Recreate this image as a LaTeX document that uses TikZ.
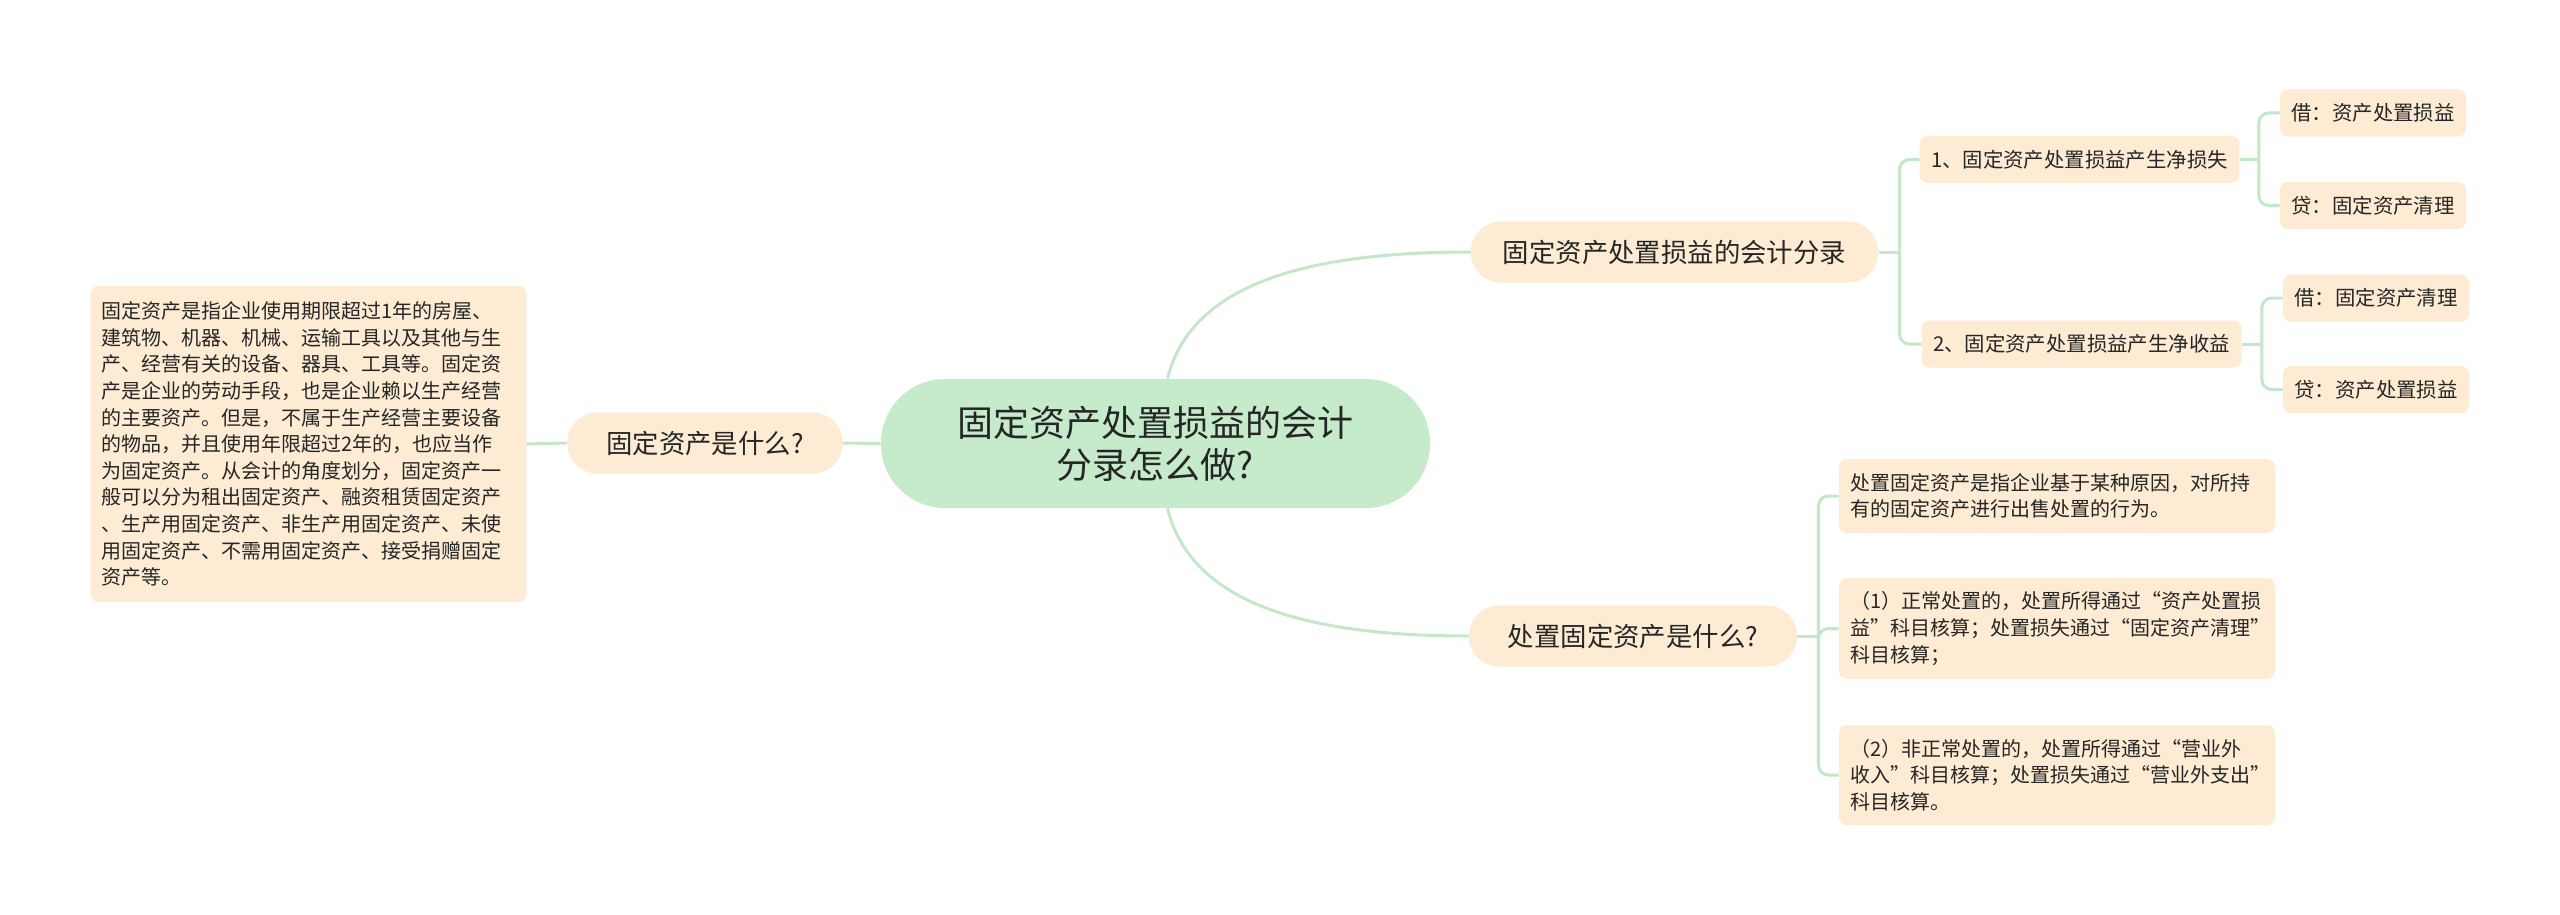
\documentclass[tikz,border=0pt]{standalone}
\usepackage{fontspec}
\setmainfont{Noto Sans CJK SC}
\usepackage{tikz}
\usetikzlibrary{calc}
\usepackage{xcolor}
\definecolor{RootGreen}{HTML}{C6EBCA}
\definecolor{TopicPeach}{HTML}{FDEBD4}
\definecolor{LinkGreen}{HTML}{C3E7C8}
\definecolor{InkDark}{HTML}{262626}

\begin{document}
\begin{tikzpicture}[x=0.5pt, y=-0.5pt,
    root/.style={fill=RootGreen, rounded corners=32pt, text=InkDark, align=center, font=\fontsize{18}{21}\selectfont, minimum width=274.5pt, minimum height=64.5pt, inner sep=0pt},
    topic/.style={fill=TopicPeach, rounded corners=15pt, text=InkDark, font=\fontsize{13.2}{16}\selectfont, minimum height=30.5pt, inner xsep=19.5pt, inner ysep=0pt},
    branch/.style={fill=TopicPeach, rounded corners=4pt, text=InkDark, font=\fontsize{10.2}{13}\selectfont, minimum height=23.5pt, inner xsep=5.7pt, inner ysep=0pt},
    note/.style={fill=TopicPeach, rounded corners=4pt, text=InkDark, font=\fontsize{10}{13.3}\selectfont, align=left, text width=207pt, inner xsep=5.5pt, inner ysep=0pt},
    link/.style={draw=LinkGreen, line width=1.5pt},
    fork/.style={link, rounded corners=5pt}
  ]
    \path[use as bounding box, fill=white] (0,0) rectangle (2560,915);

    \node[root] (root) at (1155.5,443.5) {固定资产处置损益的会计\\分录怎么做?};

    \node[topic] (whatfix) at (705,443) {固定资产是什么?};
    \node[note, minimum height=158pt] (fixdef) at (308.5,444) {固定资产是指企业使用期限超过1年的房屋、\\建筑物、机器、机械、运输工具以及其他与生\\产、经营有关的设备、器具、工具等。固定资\\产是企业的劳动手段，也是企业赖以生产经营\\的主要资产。但是，不属于生产经营主要设备\\的物品，并且使用年限超过2年的，也应当作\\为固定资产。从会计的角度划分，固定资产一\\般可以分为租出固定资产、融资租赁固定资产\\、生产用固定资产、非生产用固定资产、未使\\用固定资产、不需用固定资产、接受捐赠固定\\资产等。};

    \node[topic, inner xsep=16pt] (entry) at (1674.5,252) {固定资产处置损益的会计分录};
    \node[branch] (loss) at (2079.5,159.5) {1、固定资产处置损益产生净损失};
    \node[branch] (gain) at (2081.5,344) {2、固定资产处置损益产生净收益};
    \node[branch] (lossdr) at (2373,113) {借：资产处置损益};
    \node[branch] (losscr) at (2373,205.5) {贷：固定资产清理};
    \node[branch] (gaindr) at (2376,298) {借：固定资产清理};
    \node[branch] (gaincr) at (2376,389.5) {贷：资产处置损益};

    \node[topic] (dispose) at (1633,636) {处置固定资产是什么?};
    \node[note, minimum height=37pt] (dispdef) at (2057,496) {处置固定资产是指企业基于某种原因，对所持\\有的固定资产进行出售处置的行为。};
    \node[note, minimum height=50.5pt] (normal) at (2057,628.5) {（1）正常处置的，处置所得通过“资产处置损\\益”科目核算；处置损失通过“固定资产清理”\\科目核算；};
    \node[note, minimum height=50pt] (abnormal) at (2057,775) {（2）非正常处置的，处置所得通过“营业外\\收入”科目核算；处置损失通过“营业外支出”\\科目核算。};

    \draw[link] (root.west) -- (whatfix.east);
    \draw[link] (whatfix.west) -- (fixdef.east);
    \draw[link] ($(root.north)+(12,0)$) .. controls +(23,-93) and +(-168,0) .. (entry.west);
    \draw[link] ($(root.south)+(12,0)$) .. controls +(23,93) and +(-168,0) .. (dispose.west);

    \draw[link] (entry.east) -- ++(21,0) coordinate (entryfork);
    \draw[fork] (entryfork) |- (loss.west);
    \draw[fork] (entryfork) |- (gain.west);
    \draw[link] (loss.east) -- ++(19,0) coordinate (lossfork);
    \draw[fork] (lossfork) |- (lossdr.west);
    \draw[fork] (lossfork) |- (losscr.west);
    \draw[link] (gain.east) -- ++(20,0) coordinate (gainfork);
    \draw[fork] (gainfork) |- (gaindr.west);
    \draw[fork] (gainfork) |- (gaincr.west);

    \draw[link] (dispose.east) -- ++(21,0) coordinate (dispfork);
    \draw[fork] (dispfork) |- (dispdef.west);
    \draw[fork] (dispfork) |- (normal.west);
    \draw[fork] (dispfork) |- (abnormal.west);
  \end{tikzpicture}
\end{document}
